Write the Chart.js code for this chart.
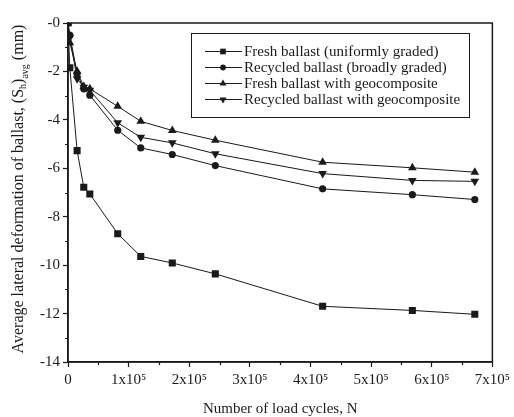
<!DOCTYPE html>
<html>
<head>
<meta charset="utf-8">
<script src="https://cdn.jsdelivr.net/npm/chart.js@4"></script>
<style>
  html, body { margin: 0; padding: 0; background: #fff; }
  #wrap { width: 514px; height: 417px; }
</style>
</head>
<body>
<div id="wrap"><canvas id="chart" width="514" height="417"></canvas></div>
<script>
// load cycles (x axis)
const cycles = [0, 3000, 15000, 26000, 36000, 82000, 120000, 172000, 243000, 420000, 568000, 671000];

// average lateral deformation (mm)
const freshBallast = [0, -1.85, -5.27, -6.78, -7.06, -8.70, -9.64, -9.91, -10.36, -11.70, -11.87, -12.03];
const recycledBallast = [0, -0.50, -2.10, -2.72, -2.98, -4.43, -5.16, -5.43, -5.89, -6.85, -7.09, -7.29];
const freshGeo = [0, -0.82, -1.99, -2.62, -2.72, -3.44, -4.06, -4.44, -4.84, -5.75, -5.98, -6.16];
const recycledGeo = [0, -0.60, -2.30, -2.65, -2.78, -4.12, -4.72, -4.95, -5.40, -6.22, -6.50, -6.54];

const seriesNames = [
    'Fresh ballast (uniformly graded)',
    'Recycled ballast (broadly graded)',
    'Fresh ballast with geocomposite',
    'Recycled ballast with geocomposite'
];

const yTicks = [0, -2, -4, -6, -8, -10, -12, -14];
const xTickLabels = ['0', '1x10⁵', '2x10⁵', '3x10⁵', '4x10⁵', '5x10⁵', '6x10⁵', '7x10⁵'];

const FONT = '"Liberation Serif", "Times New Roman", serif';
const INK = '#1a1a1a';

function makeSet(label, values, style, radius, rotation) {
    return {
        label: label,
        data: cycles.map((c, i) => ({ x: c, y: values[i] })),
        borderColor: INK,
        backgroundColor: INK,
        borderWidth: 1,
        pointStyle: style,
        pointRadius: radius,
        pointRotation: rotation || 0,
        pointBorderWidth: 0,
        pointBackgroundColor: INK,
        tension: 0
    };
}

// frame, minor ticks, legend box and axis titles
const decorations = {
    id: 'decorations',
    afterDraw(chart) {
        const ctx = chart.ctx;
        const a = chart.chartArea;
        const xs = chart.scales.x, ys = chart.scales.y;
        ctx.save();
        ctx.strokeStyle = INK;
        ctx.lineWidth = 1.5;
        ctx.strokeRect(a.left, a.top, a.right - a.left, a.bottom - a.top);

        // minor ticks
        ctx.lineWidth = 1.2;
        ctx.beginPath();
        for (let v = -1; v > -14; v -= 2) {
            const y = Math.round(ys.getPixelForValue(v)) + 0.5;
            ctx.moveTo(a.left, y);
            ctx.lineTo(a.left - 3, y);
        }
        for (let v = 50000; v < 700000; v += 100000) {
            const x = Math.round(xs.getPixelForValue(v)) + 0.5;
            ctx.moveTo(x, a.bottom);
            ctx.lineTo(x, a.bottom + 3);
        }
        ctx.stroke();

        // legend
        const bx = 191, by = 33, bw = 278, bh = 84;
        ctx.lineWidth = 1;
        ctx.strokeRect(bx + 0.5, by + 0.5, bw, bh);
        ctx.font = '15px ' + FONT;
        ctx.fillStyle = INK;
        ctx.textBaseline = 'middle';
        chart.data.datasets.forEach((ds, i) => {
            const cy = 51.5 + i * 16;
            ctx.beginPath();
            ctx.moveTo(205, cy);
            ctx.lineTo(242, cy);
            ctx.stroke();
            Chart.helpers.drawPoint(ctx, {
                pointStyle: ds.pointStyle,
                rotation: ds.pointRotation,
                radius: ds.pointRadius * 0.8,
                borderWidth: 0
            }, 223, cy);
            ctx.fillText(ds.label, 244, cy + 1);
        });

        // x title
        ctx.textAlign = 'center';
        ctx.fillText('Number of load cycles, N', (a.left + a.right) / 2, 409);

        // y title with subscripts
        const parts = [
            ['Average lateral deformation of ballast, (S', 16, 0],
            ['h', 10, 4],
            [')', 16, 0],
            ['avg', 10, 6],
            [' (mm)', 16, 0]
        ];
        let total = 0;
        parts.forEach(p => { ctx.font = p[1] + 'px ' + FONT; total += ctx.measureText(p[0]).width; });
        ctx.translate(19, 189);
        ctx.rotate(-Math.PI / 2);
        ctx.textAlign = 'left';
        let px = -total / 2;
        parts.forEach(p => {
            ctx.font = p[1] + 'px ' + FONT;
            ctx.fillText(p[0], px, p[2]);
            px += ctx.measureText(p[0]).width;
        });
        ctx.restore();
    }
};

new Chart(document.getElementById('chart').getContext('2d'), {
    type: 'line',
    data: {
        datasets: [
            makeSet(seriesNames[0], freshBallast, 'rect', 5),
            makeSet(seriesNames[1], recycledBallast, 'circle', 3.6),
            makeSet(seriesNames[2], freshGeo, 'triangle', 5),
            makeSet(seriesNames[3], recycledGeo, 'triangle', 5, 180)
        ]
    },
    options: {
        responsive: false,
        animation: false,
        layout: { padding: { top: 23, right: 17, left: 0, bottom: 0 } },
        plugins: {
            legend: { display: false },
            tooltip: { enabled: false }
        },
        scales: {
            x: {
                type: 'linear',
                min: 0,
                max: 700000,
                afterFit(scale) { scale.height = 55; },
                afterBuildTicks(scale) {
                    scale.ticks = xTickLabels.map((_, i) => ({ value: i * 100000 }));
                },
                ticks: {
                    color: INK,
                    font: { family: FONT, size: 15 },
                    padding: 4,
                    maxRotation: 0,
                    autoSkip: false,
                    callback: (v) => xTickLabels[Math.round(v / 100000)]
                },
                grid: { drawOnChartArea: false, tickLength: 5, tickWidth: 1.2, color: INK },
                border: { color: INK, width: 1.5 }
            },
            y: {
                type: 'linear',
                min: -14,
                max: 0,
                afterFit(scale) { scale.width = 68; },
                afterBuildTicks(scale) {
                    scale.ticks = yTicks.map(v => ({ value: v }));
                },
                ticks: {
                    color: INK,
                    font: { family: FONT, size: 15 },
                    padding: 3,
                    callback: (v) => (v === 0 ? '-0' : String(v))
                },
                grid: { drawOnChartArea: false, tickLength: 5, tickWidth: 1.2, color: INK },
                border: { color: INK, width: 1.5 }
            }
        }
    },
    plugins: [decorations]
});
</script>
</body>
</html>
